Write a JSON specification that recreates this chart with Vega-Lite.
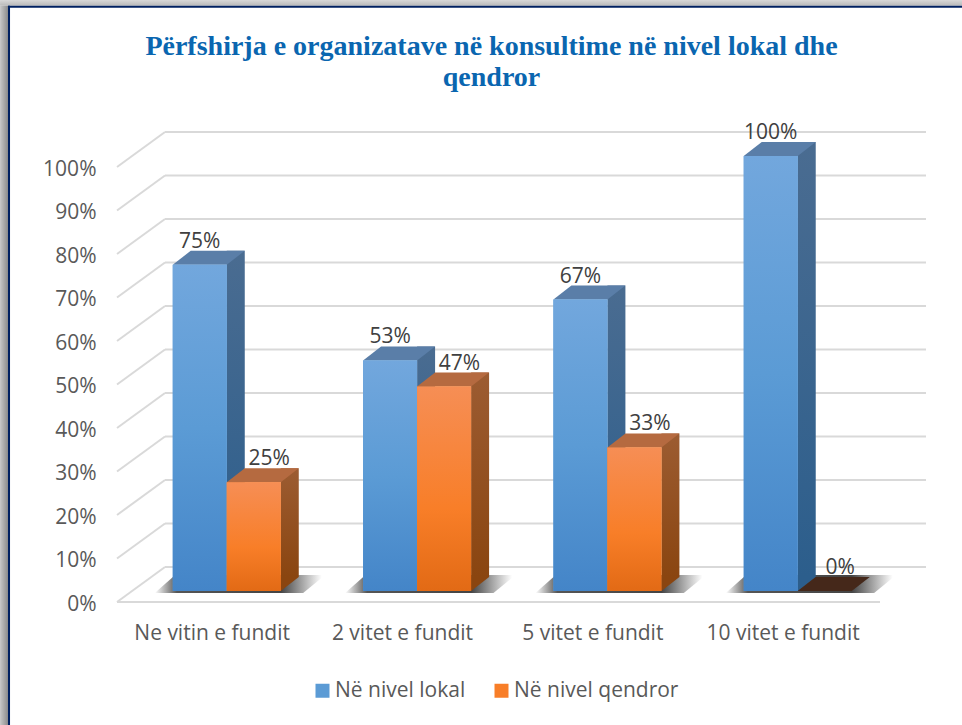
{"$schema":"https://vega.github.io/schema/vega-lite/v6.json","width":763,"height":435,"autosize":{"type":"none"},"padding":{"left":117,"top":167,"right":82,"bottom":123},"background":"white","title":{"text":["Përfshirja e organizatave në konsultime në nivel lokal dhe","qendror"],"font":"Liberation Serif","fontSize":28,"fontWeight":"bold","color":"#0A66B0","anchor":"middle","frame":"group","dx":-7,"offset":0,"dy":92,"lineHeight":31},"config":{"view":{"stroke":null},"font":"Open Sans"},"datasets":{"ticks":[{"t":0},{"t":0.1},{"t":0.2},{"t":0.3},{"t":0.4},{"t":0.5},{"t":0.6},{"t":0.7},{"t":0.8},{"t":0.9},{"t":1}],"one":[{"part":"frame"}]},"data":{"values":[{"cat":"Ne vitin e fundit","series":"Në nivel lokal","value":0.75},{"cat":"Ne vitin e fundit","series":"Në nivel qendror","value":0.25},{"cat":"2 vitet e fundit","series":"Në nivel lokal","value":0.53},{"cat":"2 vitet e fundit","series":"Në nivel qendror","value":0.47},{"cat":"5 vitet e fundit","series":"Në nivel lokal","value":0.67},{"cat":"5 vitet e fundit","series":"Në nivel qendror","value":0.33},{"cat":"10 vitet e fundit","series":"Në nivel lokal","value":1},{"cat":"10 vitet e fundit","series":"Në nivel qendror","value":0}]},"resolve":{"scale":{"x":"independent"}},"layer":[
{"data":{"name":"ticks"},"mark":{"type":"rule","stroke":"#D9D9D9","strokeWidth":2,"yOffset":-35},"encoding":{"x":{"datum":0.0629,"type":"quantitative","scale":{"domain":[0,1],"nice":false,"zero":false},"axis":null},"x2":{"datum":1.0603},"y":{"field":"t","type":"quantitative","scale":{"domain":[0,1],"nice":false},"axis":{"title":null,"values":[0,0.1,0.2,0.3,0.4,0.5,0.6,0.7,0.8,0.9,1],"format":".0%","domain":false,"ticks":false,"grid":false,"labelPadding":21,"labelFontSize":21,"labelOffset":2,"labelColor":"#595959","labelFont":"Open Sans"}}}},
{"data":{"name":"ticks"},"mark":{"type":"point","shape":"M0 0L48 -35","size":4,"filled":false,"stroke":"#D9D9D9","strokeWidth":2,"opacity":1},"encoding":{"x":{"datum":0,"type":"quantitative","scale":{"domain":[0,1],"nice":false,"zero":false},"axis":null},"y":{"field":"t","type":"quantitative"}}},
{"data":{"name":"one"},"mark":{"type":"rule","stroke":"#D9D9D9","strokeWidth":2},"encoding":{"x":{"datum":0,"type":"quantitative","scale":{"domain":[0,1],"nice":false,"zero":false},"axis":null},"x2":{"datum":1},"y":{"datum":0,"type":"quantitative"}}},
{"transform":[{"filter":"datum.series==='Në nivel lokal'"}],"mark":{"type":"point","shape":"M-57.4 -9L-37 -27L113 -27L91 -9Z","size":4,"filled":true,"opacity":1,"stroke":null,"fill":{"gradient":"linear","x1":0,"y1":0,"x2":1,"y2":0,"stops":[{"offset":0,"color":"#ffffff"},{"offset":0.13,"color":"#555555"},{"offset":0.74,"color":"#444444"},{"offset":0.98,"color":"#ffffff"}]}},"encoding":{"x":{"field":"cat","type":"nominal","sort":null,"scale":{"type":"band","range":[0,761.3],"domain":["Ne vitin e fundit","2 vitet e fundit","5 vitet e fundit","10 vitet e fundit"],"paddingInner":0,"paddingOuter":0},"axis":{"title":null,"domain":false,"ticks":false,"grid":false,"labelAngle":0,"labelPadding":20,"labelFontSize":21,"labelColor":"#595959","labelFont":"Open Sans","labelOverlap":false}},"y":{"datum":0,"type":"quantitative"}}},
{"transform":[{"filter":"datum.series==='Në nivel lokal'"}],"mark":{"type":"bar","width":18,"xOffset":23.6,"yOffset":-25,"y2Offset":-25,"fill":{"gradient":"linear","x1":0,"y1":0,"x2":0,"y2":1,"stops":[{"offset":0,"color":"#4A6C91"},{"offset":1,"color":"#2C5E8C"}]}},"encoding":{"x":{"field":"cat","type":"nominal","sort":null,"scale":{"type":"band","range":[0,761.3],"domain":["Ne vitin e fundit","2 vitet e fundit","5 vitet e fundit","10 vitet e fundit"],"paddingInner":0,"paddingOuter":0},"axis":null},"y":{"field":"value","type":"quantitative"},"y2":{"datum":0}}},
{"transform":[{"filter":"datum.series==='Në nivel lokal'"}],"mark":{"type":"point","shape":"M14.6 -11L32.6 -25L14.6 -25Z","size":4,"filled":true,"opacity":1,"stroke":null,"fill":"#2C5E8C"},"encoding":{"x":{"field":"cat","type":"nominal","sort":null,"scale":{"type":"band","range":[0,761.3],"domain":["Ne vitin e fundit","2 vitet e fundit","5 vitet e fundit","10 vitet e fundit"],"paddingInner":0,"paddingOuter":0},"axis":null},"y":{"datum":0,"type":"quantitative"}}},
{"transform":[{"filter":"datum.series==='Në nivel lokal'"}],"mark":{"type":"point","shape":"M-39.4 -11L14.6 -11L32.6 -25L-21.4 -25Z","size":4,"filled":true,"opacity":1,"stroke":null,"fill":"#5A7EA8"},"encoding":{"x":{"field":"cat","type":"nominal","sort":null,"scale":{"type":"band","range":[0,761.3],"domain":["Ne vitin e fundit","2 vitet e fundit","5 vitet e fundit","10 vitet e fundit"],"paddingInner":0,"paddingOuter":0},"axis":null},"y":{"field":"value","type":"quantitative"}}},
{"transform":[{"filter":"datum.series==='Në nivel lokal'"}],"mark":{"type":"bar","width":54,"xOffset":-12.4,"yOffset":-11,"y2Offset":-11},"encoding":{"x":{"field":"cat","type":"nominal","sort":null,"scale":{"type":"band","range":[0,761.3],"domain":["Ne vitin e fundit","2 vitet e fundit","5 vitet e fundit","10 vitet e fundit"],"paddingInner":0,"paddingOuter":0},"axis":null},"y":{"field":"value","type":"quantitative"},"y2":{"datum":0},"fill":{"field":"series","type":"nominal","scale":{"domain":["Në nivel lokal","Në nivel qendror"],"range":["#5B9BD5","#F87E28"]},"legend":{"title":null,"orient":"none","direction":"horizontal","legendX":195,"legendY":513,"symbolType":"square","symbolSize":196,"symbolStrokeWidth":0,"labelFontSize":21,"labelLimit":300,"labelColor":"#595959","labelFont":"Open Sans","columnPadding":25,"labelOffset":2,"symbolOpacity":1}}}},
{"transform":[{"filter":"datum.series==='Në nivel lokal'"}],"mark":{"type":"bar","width":54,"xOffset":-12.4,"yOffset":-11,"y2Offset":-11,"fill":{"gradient":"linear","x1":0,"y1":0,"x2":0,"y2":1,"stops":[{"offset":0,"color":"#72A7DD"},{"offset":0.5,"color":"#5B9BD5"},{"offset":1,"color":"#4485C8"}]}},"encoding":{"x":{"field":"cat","type":"nominal","sort":null,"scale":{"type":"band","range":[0,761.3],"domain":["Ne vitin e fundit","2 vitet e fundit","5 vitet e fundit","10 vitet e fundit"],"paddingInner":0,"paddingOuter":0},"axis":null},"y":{"field":"value","type":"quantitative"},"y2":{"datum":0}}},
{"transform":[{"filter":"datum.series==='Në nivel qendror' && datum.value>0"}],"mark":{"type":"bar","width":18,"xOffset":77.6,"yOffset":-25,"y2Offset":-25,"fill":{"gradient":"linear","x1":0,"y1":0,"x2":0,"y2":1,"stops":[{"offset":0,"color":"#9C5C32"},{"offset":1,"color":"#8A4510"}]}},"encoding":{"x":{"field":"cat","type":"nominal","sort":null,"scale":{"type":"band","range":[0,761.3],"domain":["Ne vitin e fundit","2 vitet e fundit","5 vitet e fundit","10 vitet e fundit"],"paddingInner":0,"paddingOuter":0},"axis":null},"y":{"field":"value","type":"quantitative"},"y2":{"datum":0}}},
{"transform":[{"filter":"datum.series==='Në nivel qendror' && datum.value>0"}],"mark":{"type":"point","shape":"M68.6 -11L86.6 -25L68.6 -25Z","size":4,"filled":true,"opacity":1,"stroke":null,"fill":"#8A4510"},"encoding":{"x":{"field":"cat","type":"nominal","sort":null,"scale":{"type":"band","range":[0,761.3],"domain":["Ne vitin e fundit","2 vitet e fundit","5 vitet e fundit","10 vitet e fundit"],"paddingInner":0,"paddingOuter":0},"axis":null},"y":{"datum":0,"type":"quantitative"}}},
{"transform":[{"filter":"datum.series==='Në nivel qendror'"}],"mark":{"type":"point","shape":"M14.6 -11L68.6 -11L86.6 -25L32.6 -25Z","size":4,"filled":true,"opacity":1,"stroke":null},"encoding":{"x":{"field":"cat","type":"nominal","sort":null,"scale":{"type":"band","range":[0,761.3],"domain":["Ne vitin e fundit","2 vitet e fundit","5 vitet e fundit","10 vitet e fundit"],"paddingInner":0,"paddingOuter":0},"axis":null},"y":{"field":"value","type":"quantitative"},"fill":{"condition":{"test":"datum.value===0","value":"#45281A"},"value":"#B56A40"}}},
{"transform":[{"filter":"datum.series==='Në nivel qendror'"}],"mark":{"type":"bar","width":54,"xOffset":41.6,"yOffset":-11,"y2Offset":-11},"encoding":{"x":{"field":"cat","type":"nominal","sort":null,"scale":{"type":"band","range":[0,761.3],"domain":["Ne vitin e fundit","2 vitet e fundit","5 vitet e fundit","10 vitet e fundit"],"paddingInner":0,"paddingOuter":0},"axis":null},"y":{"field":"value","type":"quantitative"},"y2":{"datum":0},"fill":{"field":"series","type":"nominal"}}},
{"transform":[{"filter":"datum.series==='Në nivel qendror'"}],"mark":{"type":"bar","width":54,"xOffset":41.6,"yOffset":-11,"y2Offset":-11,"fill":{"gradient":"linear","x1":0,"y1":0,"x2":0,"y2":1,"stops":[{"offset":0,"color":"#F68E55"},{"offset":0.6,"color":"#F87E28"},{"offset":1,"color":"#E26A15"}]}},"encoding":{"x":{"field":"cat","type":"nominal","sort":null,"scale":{"type":"band","range":[0,761.3],"domain":["Ne vitin e fundit","2 vitet e fundit","5 vitet e fundit","10 vitet e fundit"],"paddingInner":0,"paddingOuter":0},"axis":null},"y":{"field":"value","type":"quantitative"},"y2":{"datum":0}}},
{"transform":[{"filter":"datum.series==='Në nivel lokal'"}],"mark":{"type":"text","dx":-12.4,"dy":-34,"fontSize":21,"font":"Open Sans","fill":"#404040","baseline":"middle","align":"center"},"encoding":{"x":{"field":"cat","type":"nominal","sort":null,"scale":{"type":"band","range":[0,761.3],"domain":["Ne vitin e fundit","2 vitet e fundit","5 vitet e fundit","10 vitet e fundit"],"paddingInner":0,"paddingOuter":0},"axis":null},"y":{"field":"value","type":"quantitative"},"text":{"field":"value","type":"quantitative","format":".0%"}}},
{"transform":[{"filter":"datum.series==='Në nivel qendror'"}],"mark":{"type":"text","dx":57,"dy":-34,"fontSize":21,"font":"Open Sans","fill":"#404040","baseline":"middle","align":"center"},"encoding":{"x":{"field":"cat","type":"nominal","sort":null,"scale":{"type":"band","range":[0,761.3],"domain":["Ne vitin e fundit","2 vitet e fundit","5 vitet e fundit","10 vitet e fundit"],"paddingInner":0,"paddingOuter":0},"axis":null},"y":{"field":"value","type":"quantitative"},"text":{"field":"value","type":"quantitative","format":".0%"}}},
{"data":{"name":"one"},"mark":{"type":"rect","fill":{"gradient":"linear","x1":0,"y1":0,"x2":0,"y2":1,"stops":[{"offset":0,"color":"#D8D8D8"},{"offset":1,"color":"#B8B8B8"}]}},"encoding":{"x":{"datum":-0.1533,"type":"quantitative","scale":{"domain":[0,1],"nice":false,"zero":false},"axis":null},"x2":{"datum":1.1075},"y":{"datum":1.384,"type":"quantitative"},"y2":{"datum":1.3705}}},
{"data":{"name":"one"},"mark":{"type":"rect","fill":{"gradient":"linear","x1":0,"y1":0,"x2":1,"y2":0,"stops":[{"offset":0,"color":"#C8C8C8"},{"offset":1,"color":"#8C8C8C"}]}},"encoding":{"x":{"datum":-0.1533,"type":"quantitative","scale":{"domain":[0,1],"nice":false,"zero":false},"axis":null},"x2":{"datum":-0.1429},"y":{"datum":1.3705,"type":"quantitative"},"y2":{"datum":-0.2828}}},
{"data":{"name":"one"},"mark":{"type":"rect","fill":"#002060"},"encoding":{"x":{"datum":-0.1429,"type":"quantitative","scale":{"domain":[0,1],"nice":false,"zero":false},"axis":null},"x2":{"datum":-0.1402},"y":{"datum":1.3705,"type":"quantitative"},"y2":{"datum":-0.2828}}},
{"data":{"name":"one"},"mark":{"type":"rect","fill":"#002060"},"encoding":{"x":{"datum":-0.1429,"type":"quantitative","scale":{"domain":[0,1],"nice":false,"zero":false},"axis":null},"x2":{"datum":1.1075},"y":{"datum":1.3705,"type":"quantitative"},"y2":{"datum":1.3659}}}
]}
